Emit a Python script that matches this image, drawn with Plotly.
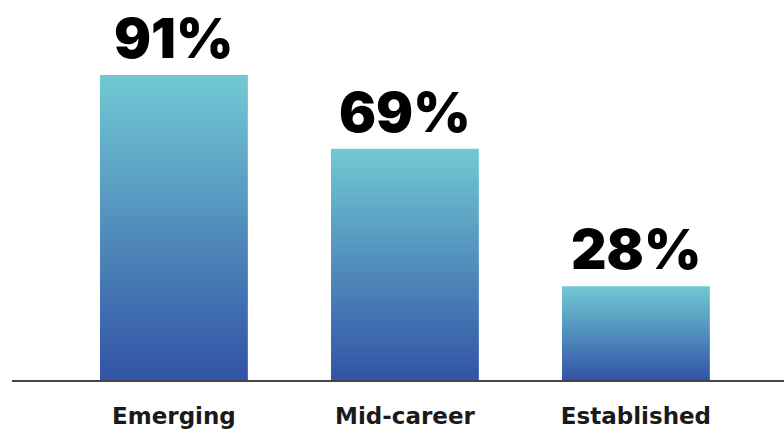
import plotly.graph_objects as go

categories = ["Emerging", "Mid-career", "Established"]
values = [91, 69, 28]
value_labels = ["91%", "69%", "28%"]

TOP = "#71C9D3"
BOTTOM = "#3253A6"
BAR_W = 0.64

fig = go.Figure()
for i, v in enumerate(values):
    x0, x1 = i - BAR_W / 2, i + BAR_W / 2
    fig.add_trace(go.Scatter(
        x=[x0, x1, x1, x0, x0], y=[0, 0, v, v, 0],
        mode="lines", line=dict(width=0), fill="toself",
        fillgradient=dict(type="vertical", colorscale=[[0, BOTTOM], [1, TOP]]),
        hoverinfo="skip", showlegend=False,
    ))
    fig.add_annotation(
        x=i, y=v, text=value_labels[i], showarrow=False,
        yanchor="bottom", yshift=2,
        font=dict(family="Inter", size=55, color="#000000", weight=900),
    )

fig.update_layout(
    width=784, height=430,
    margin=dict(l=12, r=0, t=0, b=50),
    paper_bgcolor="white", plot_bgcolor="white",
    xaxis=dict(
        range=[-0.701, 2.641], tickvals=list(range(len(categories))), ticktext=categories,
        showgrid=False, zeroline=False, showline=True, linecolor="#444444", linewidth=2,
        ticks="", ticklabelstandoff=14,
        tickfont=dict(family="DejaVu Sans", size=23, color="#1a1a1a", weight=700),
    ),
    yaxis=dict(range=[0, 113.4], visible=False),
)

fig.write_html("out.html")
